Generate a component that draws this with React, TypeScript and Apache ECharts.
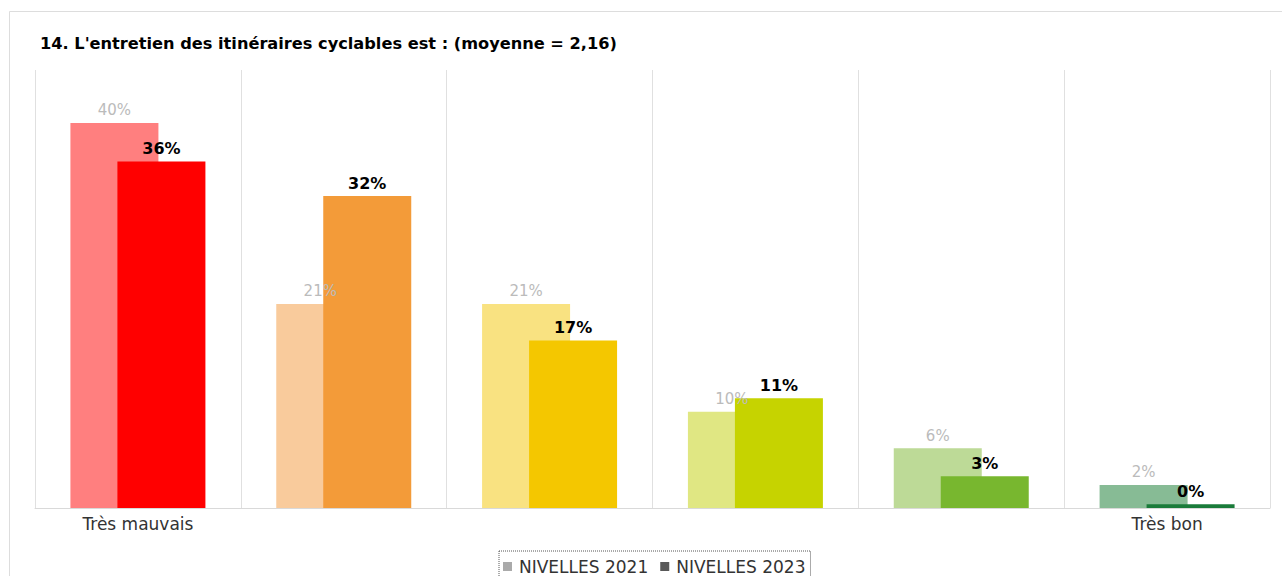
import React, { useEffect, useRef } from "react";
import * as echarts from "echarts";

const TITLE = "14. L'entretien des itinéraires cyclables est : (moyenne = 2,16)";
const categories = ["Très mauvais", "", "", "", "", "Très bon"];
const seriesNames = ["NIVELLES 2021", "NIVELLES 2023"];
const values2021 = [40.0, 21.2, 21.2, 10.0, 6.2, 2.4];
const values2023 = [36.0, 32.4, 17.4, 11.4, 3.3, 0.4];
const colors2021 = ["#FF7F7F", "#F9CB9C", "#F9E281", "#E0E783", "#BDDA97", "#87BB95"];
const colors2023 = ["#FF0000", "#F39B39", "#F4C700", "#C6D300", "#78B72F", "#1A7B3A"];
const legendColors = ["#AAAAAA", "#595959"];

export default function App() {
  const ref = useRef<HTMLDivElement>(null);
  useEffect(() => {
    if (!ref.current) return;
    const chart = echarts.init(ref.current, undefined, { renderer: "svg" });
    const font = "DejaVu Sans, Verdana, sans-serif";
    chart.setOption({
      animation: false,
      textStyle: { fontFamily: font },
      graphic: [
        {
          type: "rect",
          shape: { x: 9.5, y: 11.5, width: 1300, height: 600 },
          style: { fill: "none", stroke: "#DDDDDD", lineWidth: 1 },
          silent: true,
          z: -10,
        },
        {
          type: "text",
          x: 40,
          y: 43,
          style: {
            text: TITLE,
            fontFamily: font,
            fontWeight: "bold",
            fontSize: 16.2,
            fill: "#000000",
            textVerticalAlign: "middle",
          },
        },
      ],
      legend: {
        left: 499,
        top: 551,
        padding: [7, 5, 4, 4],
        borderWidth: 1,
        borderType: "dotted",
        borderColor: "#555555",
        itemWidth: 9,
        itemHeight: 9,
        itemGap: 12,
        icon: "rect",
        textStyle: { fontSize: 17, color: "#333333", fontFamily: font, padding: [0, 0, 0, 2] },
        data: seriesNames.map((n, i) => ({ name: n, itemStyle: { color: legendColors[i] } })),
      },
      grid: { left: 35, right: 12, top: 70, bottom: 68 },
      xAxis: {
        type: "category",
        data: categories,
        axisLine: { show: true, lineStyle: { color: "#D9D9D9" } },
        axisTick: { show: false },
        splitLine: { show: true, lineStyle: { color: "#E0E0E0" } },
        axisLabel: { color: "#333333", fontSize: 17, fontFamily: font, margin: 7 },
      },
      yAxis: {
        type: "value",
        min: 0,
        max: 45.5,
        show: false,
        splitLine: { show: false },
      },
      series: [
        {
          name: seriesNames[0],
          type: "bar",
          barWidth: 88,
          barGap: "-46.6%",
          itemStyle: { color: legendColors[0] },
          data: values2021.map((v, i) => ({ value: v, itemStyle: { color: colors2021[i] } })),
          label: {
            show: true,
            position: "top",
            distance: 5,
            color: "#BBBBBB",
            fontSize: 15,
            fontFamily: font,
            formatter: (p: any) => Math.round(p.value) + "%",
          },
        },
        {
          name: seriesNames[1],
          type: "bar",
          barWidth: 88,
          barGap: "-46.6%",
          itemStyle: { color: legendColors[1] },
          data: values2023.map((v, i) => ({ value: v, itemStyle: { color: colors2023[i] } })),
          label: {
            show: true,
            position: "top",
            distance: 5,
            color: "#000000",
            fontWeight: "bold",
            fontSize: 16,
            fontFamily: font,
            formatter: (p: any) => Math.round(p.value) + "%",
          },
        },
      ],
    });
    return () => chart.dispose();
  }, []);
  return (
    <div
      ref={ref}
      style={{ position: "absolute", left: 0, top: 0, width: 1282, height: 576 }}
    />
  );
}
